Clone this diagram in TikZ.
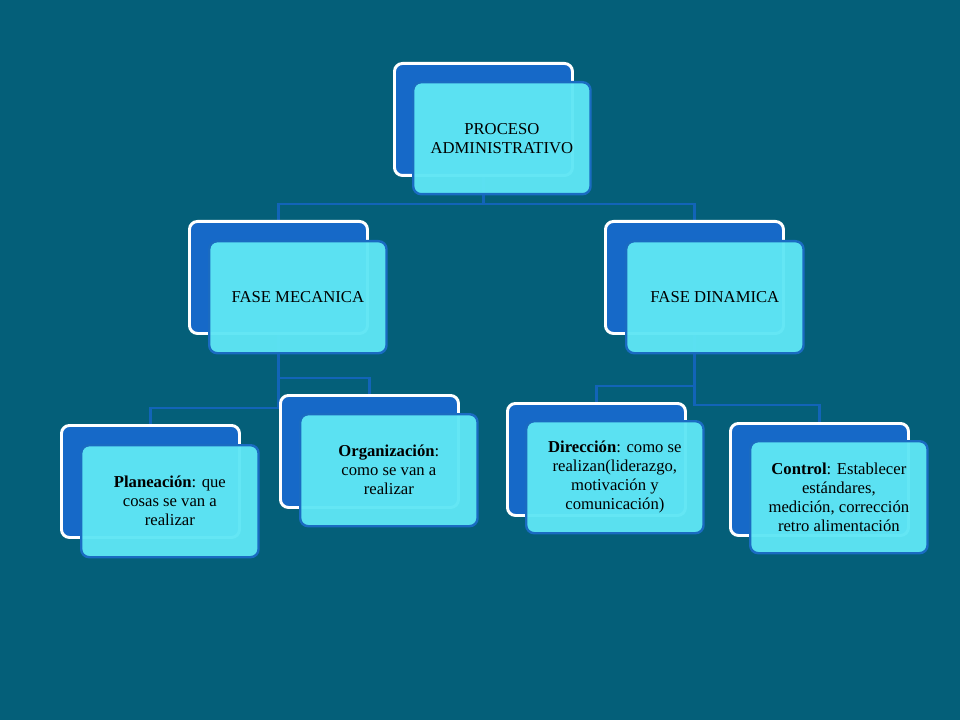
\documentclass[tikz,border=0pt]{standalone}
\usepackage{fontspec}
\setmainfont{Liberation Serif}
\definecolor{bg}{HTML}{045F79}
\definecolor{backblue}{HTML}{1669C8}
\definecolor{frontcyan}{HTML}{5EE6F4}
\definecolor{edgeblue}{HTML}{1A6BC2}
\definecolor{linkblue}{HTML}{1264B8}
\pgfdeclarelayer{bglayer}
\pgfdeclarelayer{linklayer}
\pgfsetlayers{bglayer,linklayer,main}
\tikzset{
  backbox/.style={draw=white, line width=2.2pt, fill=backblue, rounded corners=6pt,
    minimum width=133.5pt, minimum height=84pt, inner sep=0pt, anchor=north west},
  frontbox/.style={draw=edgeblue, line width=1.8pt, fill=frontcyan, fill opacity=0.96,
    text opacity=1, rounded corners=6pt, minimum width=133pt, minimum height=84pt,
    inner sep=2pt, anchor=north west, align=center, font=\fontsize{12.5}{14.3}\selectfont},
  link/.style={draw=linkblue, line width=2pt},
}
\begin{document}
\begin{tikzpicture}[x=0.75pt, y=-0.75pt]
\begin{pgfonlayer}{bglayer}
\fill[bg] (0,0) rectangle (960,720);
\end{pgfonlayer}
\useasboundingbox (0,0) rectangle (960,720);
\coordinate (j0) at (482,204);
\coordinate (j1) at (278,378);
\coordinate (j2) at (278,408);
\coordinate (j3) at (692,386);
\coordinate (j4) at (692,405);
% boxes
\node[backbox] (pab) at (393,62) {};
\node[frontbox] (pa) at (412,81) {PROCESO\\ADMINISTRATIVO};
\node[backbox] (fmb) at (188,220) {};
\node[frontbox] (fm) at (208,240) {FASE MECANICA};
\node[backbox] (fdb) at (604,220) {};
\node[frontbox] (fd) at (625,240) {FASE DINAMICA};
\node[backbox] (plb) at (60,424) {};
\node[frontbox] (pl) at (80,444) {\textbf{Planeación}: que\\cosas se van a\\realizar};
\node[backbox] (orb) at (279,394) {};
\node[frontbox] (or) at (299,413) {\textbf{Organización}:\\como se van a\\realizar};
\node[backbox] (dib) at (506,402) {};
\node[frontbox] (di) at (525,420) {\textbf{Dirección}: como se\\realizan(liderazgo,\\motivación y\\comunicación)};
\node[backbox] (cob) at (729,422) {};
\node[frontbox] (co) at (749,440) {\textbf{Control}: Establecer\\estándares,\\medición, corrección\\retro alimentación};
% connectors
\begin{pgfonlayer}{linklayer}
\draw[link] (pab.center) -- (pab.center |- j0) -| (fmb.north);
\draw[link] (pab.center |- j0) -| (fdb.north);
\draw[link] (fmb.center) -- (fmb.center |- j2) -| (plb.north);
\draw[link] (fmb.center |- j1) -| (orb.north);
\draw[link] (fdb.center) -- (fdb.center |- j4) -| (cob.north);
\draw[link] (fdb.center |- j3) -| (dib.north);
\end{pgfonlayer}
\end{tikzpicture}
\end{document}
